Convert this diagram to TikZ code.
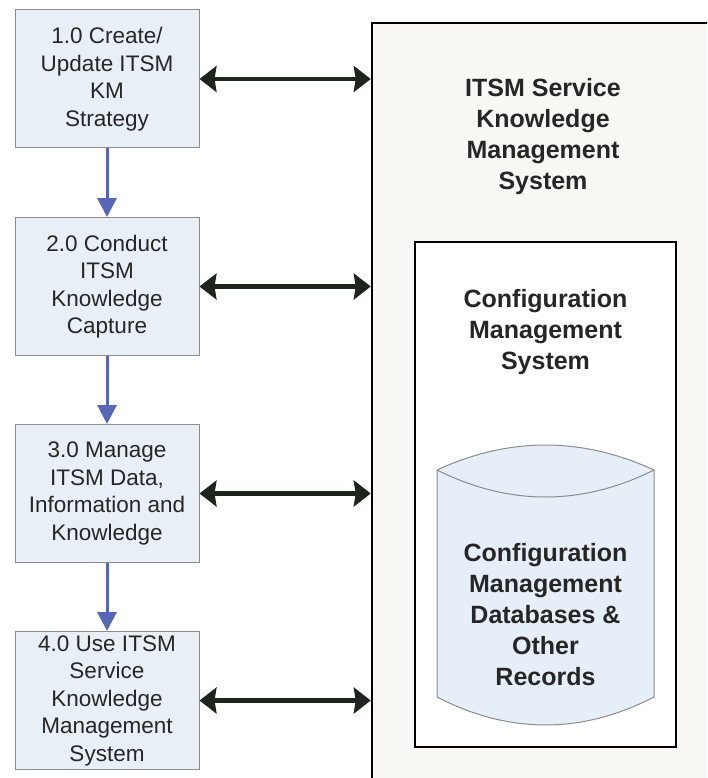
\documentclass[tikz,border=0pt]{standalone}
\usepackage{fontspec}
\setmainfont{Liberation Sans}
\usetikzlibrary{arrows.meta}
\definecolor{boxfill}{HTML}{E8EFF7}
\definecolor{boxline}{HTML}{8C8C8C}
\definecolor{outerfill}{HTML}{F8F7F3}
\definecolor{cylfill}{HTML}{E6EEF7}
\definecolor{arrowdark}{HTML}{1E2420}
\definecolor{flowblue}{HTML}{5566BB}
\begin{document}
\begin{tikzpicture}[x=1pt,y=-1pt,
  stepbox/.style={draw=boxline, line width=1pt, fill=boxfill, minimum width=184pt, minimum height=138pt, inner sep=0pt, align=center, font=\fontsize{22.5}{27.5}\selectfont, text=black!85},
  bigbox/.style={draw=black, line width=2.5pt, inner sep=0pt},
  boldlabel/.style={align=center, font=\bfseries\fontsize{25}{31}\selectfont, text=black!85, inner sep=0pt},
  dblarrow/.style={draw=arrowdark, line width=4.5pt, {Stealth[length=17pt,width=26pt,inset=2pt]}-{Stealth[length=17pt,width=26pt,inset=2pt]}},
  flowarrow/.style={draw=flowblue, line width=3pt, -{Triangle[length=19pt,width=19pt]}},
  cyl/.style={draw=boxline, line width=1pt, fill=cylfill}
]
\useasboundingbox (0,0) rectangle (707,778);
\clip (0,0) rectangle (707,778);
\fill[white] (0,0) rectangle (707,778);

% outer system box
\node[bigbox, fill=outerfill, minimum width=428pt, minimum height=827pt] (kms) at (586,436.5) {};
\node[boldlabel] (kmslabel) at (543,137) {ITSM Service\\Knowledge\\Management\\System};

% inner CMS box
\node[bigbox, fill=white, minimum width=261pt, minimum height=505pt] (cms) at (545.5,494.5) {};
\node[boldlabel] (cmslabel) at (545.5,332) {Configuration\\Management\\System};

% cylinder
\path[cyl] (437,470) .. controls (509.3,436.7) and (581.7,436.7) .. (654,470)
  -- (654,697) .. controls (581.7,734.3) and (509.3,734.3) .. (437,697) -- cycle;
\draw[boxline, line width=1pt] (437,470) .. controls (509.3,506) and (581.7,506) .. (654,470);
\node[boldlabel] (cmdb) at (545.5,615) {Configuration\\Management\\Databases \&\\Other\\Records};

% process steps
\node[stepbox] (b1) at (107,79) {1.0 Create/\\Update ITSM\\KM\\Strategy};
\node[stepbox] (b2) at (107,286.5) {2.0 Conduct\\ITSM\\Knowledge\\Capture};
\node[stepbox] (b3) at (107,493.5) {3.0 Manage\\ITSM Data,\\Information and\\Knowledge};
\node[stepbox] (b4) at (107,700.5) {4.0 Use ITSM\\Service\\Knowledge\\Management\\System};

% flow arrows
\draw[flowarrow] (b1.south) -- (b2.north);
\draw[flowarrow] (b2.south) -- (b3.north);
\draw[flowarrow] (b3.south) -- (b4.north);

% double arrows
\draw[dblarrow] (b1.east) -- (b1.east -| kms.west);
\draw[dblarrow] (b2.east) -- (b2.east -| kms.west);
\draw[dblarrow] (b3.east) -- (b3.east -| kms.west);
\draw[dblarrow] (b4.east) -- (b4.east -| kms.west);
\end{tikzpicture}
\end{document}
